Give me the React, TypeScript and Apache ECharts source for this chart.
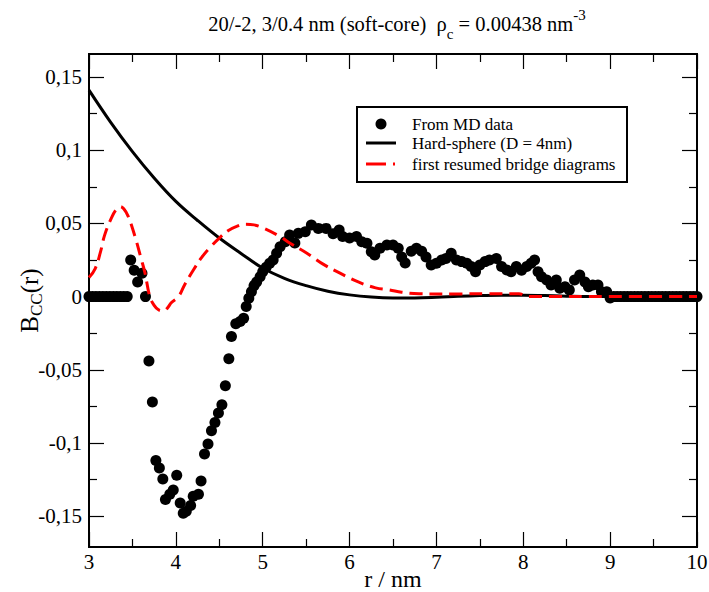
import React, { useEffect, useRef } from "react";
import * as echarts from "echarts";

// MD data (r in nm, B_CC)
const mdR = [
  3.0, 3.04, 3.08, 3.12, 3.16, 3.2, 3.24, 3.28, 3.32, 3.36, 3.4, 3.44,
  3.48, 3.52, 3.56, 3.61, 3.65, 3.69, 3.73, 3.77, 3.81, 3.85, 3.88, 3.93, 3.97,
  4.01, 4.05, 4.085, 4.12, 4.17, 4.2, 4.26, 4.29, 4.33, 4.37, 4.41, 4.45, 4.49,
  4.53, 4.57, 4.61, 4.64, 4.69, 4.74, 4.78, 4.81, 4.84, 4.87, 4.9, 4.93, 4.97,
  5.0, 5.04, 5.08, 5.12, 5.16, 5.2, 5.26, 5.31, 5.37, 5.41, 5.49, 5.56, 5.64,
  5.73, 5.81, 5.88, 5.92, 6.0, 6.08, 6.14, 6.2, 6.25, 6.29, 6.35, 6.43, 6.5,
  6.56, 6.6, 6.64, 6.71, 6.77, 6.83, 6.88, 6.94, 7.0, 7.06, 7.11, 7.17, 7.23,
  7.29, 7.35, 7.4, 7.45, 7.5, 7.56, 7.61, 7.69, 7.75, 7.81, 7.86, 7.92, 7.98,
  8.04, 8.09, 8.13, 8.17, 8.21, 8.27, 8.32, 8.38, 8.42, 8.48, 8.53, 8.59, 8.65,
  8.71, 8.75, 8.8, 8.86, 8.9, 8.96, 9.0,
  9.04, 9.08, 9.12, 9.16, 9.2, 9.24, 9.28, 9.32, 9.36, 9.4, 9.44, 9.48, 9.52,
  9.56, 9.6, 9.64, 9.68, 9.72, 9.76, 9.8, 9.84, 9.88, 9.92, 9.96, 10.0,
];
const mdB = [
  0, 0, 0, 0, 0, 0, 0, 0, 0, 0, 0, 0,
  0.025, 0.018, 0.01, 0.016, 0.0, -0.044, -0.072, -0.112, -0.117, -0.1245, -0.1386, -0.135, -0.132,
  -0.122, -0.141, -0.148, -0.1466, -0.1427, -0.1364, -0.135, -0.126, -0.1075, -0.1006, -0.0916, -0.086, -0.0795,
  -0.0738, -0.0609, -0.0425, -0.0273, -0.0186, -0.017, -0.0148, -0.0068, -0.0011, 0.0034, 0.0075, 0.01, 0.0136,
  0.017, 0.02, 0.0228, 0.025, 0.0296, 0.034, 0.0375, 0.042, 0.0366, 0.0432, 0.0443, 0.0489, 0.0466,
  0.0466, 0.043, 0.0455, 0.041, 0.04, 0.041, 0.0375, 0.0364, 0.0307, 0.0284, 0.033, 0.0352, 0.0352,
  0.033, 0.027, 0.023, 0.031, 0.033, 0.031, 0.027, 0.0216, 0.0228, 0.025, 0.026, 0.0296, 0.025,
  0.0239, 0.0228, 0.0205, 0.017, 0.0216, 0.0239, 0.025, 0.026, 0.0205, 0.0182, 0.017, 0.0205, 0.018,
  0.0205, 0.0228, 0.025, 0.017, 0.0136, 0.0114, 0.008, 0.0114, 0.0057, 0.0068, 0.0046, 0.0114, 0.0148,
  0.01, 0.0068, 0.008, 0.008, 0.0034, 0.0034, -0.001,
  0, 0, 0, 0, 0, 0, 0, 0, 0, 0, 0, 0, 0,
  0, 0, 0, 0, 0, 0, 0, 0, 0, 0, 0, 0,
];

// Hard-sphere (D = 4nm)
const hsR = [3.0, 3.25, 3.5, 3.75, 4.0, 4.25, 4.5, 4.75, 5.0, 5.25, 5.5, 5.75, 6.0, 6.25, 6.5, 6.75, 7.0, 7.25, 7.5, 7.75, 8.0, 8.25, 8.5, 9.0, 10.0];
const hsB = [0.141, 0.119, 0.099, 0.081, 0.065, 0.052, 0.04, 0.0295, 0.0195, 0.0125, 0.0075, 0.0037, 0.0012, -0.0003, -0.0009, -0.0009, -0.0005, 0.0002, 0.0007, 0.001, 0.001, 0.0007, 0.0003, 0.0, 0.0];

// First resumed bridge diagrams
const brR = [3.0, 3.07, 3.13, 3.18, 3.26, 3.32, 3.36, 3.4, 3.45, 3.53, 3.6, 3.645, 3.7, 3.75, 3.8, 3.855, 3.9, 3.95, 4.03, 4.1, 4.2, 4.3, 4.4, 4.5, 4.6, 4.7, 4.8, 4.9, 5.0, 5.2, 5.31, 5.5, 5.7, 5.89, 6.1, 6.3, 6.46, 6.6, 6.8, 7.2, 7.6, 7.95, 8.05, 9.0, 10.0];
const brB = [0.013, 0.019, 0.03, 0.042, 0.054, 0.06, 0.0615, 0.06, 0.055, 0.041, 0.026, 0.016, 0.0, -0.006, -0.009, -0.0097, -0.008, -0.004, 0.0, 0.008, 0.018, 0.027, 0.034, 0.04, 0.045, 0.048, 0.0495, 0.049, 0.047, 0.041, 0.0366, 0.03, 0.022, 0.016, 0.01, 0.006, 0.0046, 0.003, 0.002, 0.0018, 0.002, 0.002, 0.0, 0.0, 0.0];

const yMajor = [-0.15, -0.1, -0.05, 0, 0.05, 0.1, 0.15];
const yMinor = [-0.125, -0.075, -0.025, 0.025, 0.075, 0.125];
const legendNames = ["From MD data", "Hard-sphere (D = 4nm)", "first resumed bridge diagrams"];

const FONT = "Liberation Serif";
const Y_MIN = -0.171;
const Y_MAX = 0.1657;

const fmtY = (v: number) => {
  const n = Number(v.toFixed(3));
  const s = n === 0 ? "0" : String(n).replace(".", ",");
  return `{a|${s}}`;
};
const fmtX = (v: number) => `{a|${v}}`;

export default function App() {
  const ref = useRef<HTMLDivElement>(null);
  useEffect(() => {
    if (!ref.current) return;
    const chart = echarts.init(ref.current, null, { renderer: "svg" });
    const labelRich = { a: { fontFamily: FONT, fontSize: 21, color: "#000" } };
    const axisLine = { show: true, onZero: false, lineStyle: { color: "#000", width: 2 } };
    const yBase = (pos: "left" | "right", ticks: number[], len: number, labels: boolean, name?: boolean) => ({
      type: "value",
      position: pos,
      min: Y_MIN,
      max: Y_MAX,
      axisLine,
      splitLine: { show: false },
      axisTick: { show: true, inside: true, length: len, customValues: ticks, lineStyle: { color: "#000", width: 1.2 } },
      axisLabel: labels
        ? { show: true, customValues: yMajor, formatter: fmtY, fontFamily: FONT, fontSize: 21, color: "#000", margin: 7, rich: labelRich }
        : { show: false },
      ...(name
        ? {
            name: "{b|B}{sub|CC}{b|(r)}",
            nameLocation: "middle",
            nameGap: 44,
            nameRotate: 90,
            nameMoveOverlap: false,
            nameTextStyle: {
              fontFamily: FONT,
              fontSize: 25,
              color: "#000",
              lineHeight: 32,
              rich: {
                b: { fontFamily: FONT, fontSize: 25, color: "#000" },
                sub: { fontFamily: FONT, fontSize: 17, verticalAlign: "bottom", lineHeight: 17, color: "#000" },
              },
            },
          }
        : {}),
    });
    const xBase = (pos: "bottom" | "top", labels: boolean) => ({
      type: "value",
      position: pos,
      min: 3,
      max: 10,
      interval: 1,
      axisLine,
      splitLine: { show: false },
      axisTick: { show: true, inside: true, length: 15, lineStyle: { color: "#000", width: 1.2 } },
      minorTick: { show: true, splitNumber: 2, length: 8, lineStyle: { color: "#000", width: 1.2 } },
      minorSplitLine: { show: false },
      axisLabel: labels
        ? { show: true, formatter: fmtX, fontFamily: FONT, fontSize: 21, color: "#000", margin: 4, rich: labelRich }
        : { show: false },
      ...(labels
        ? {
            name: "{n|r / nm}",
            nameLocation: "middle",
            nameGap: 20,
            nameMoveOverlap: false,
            nameTextStyle: { fontFamily: FONT, fontSize: 24, color: "#000", rich: { n: { fontFamily: FONT, fontSize: 24, color: "#000" } } },
          }
        : {}),
    });

    chart.setOption({
      animation: false,
      backgroundColor: "#fff",
      textStyle: { fontFamily: FONT },
      title: {
        text: "{t|20/-2, 3/0.4 nm (soft-core)  ρ}{sub|c}{t| = 0.00438 nm}{sup|-3}",
        left: 392,
        top: 2,
        textAlign: "center",
        textStyle: {
          fontFamily: FONT,
          fontSize: 20.5,
          fontWeight: "normal",
          color: "#000",
          lineHeight: 34,
          rich: {
            t: { fontFamily: FONT, fontSize: 20.5, color: "#000" },
            sub: { fontFamily: FONT, fontSize: 15, verticalAlign: "bottom", lineHeight: 15, color: "#000" },
            sup: { fontFamily: FONT, fontSize: 15, verticalAlign: "top", lineHeight: 15, color: "#000" },
          },
        },
      },
      grid: { left: 89, right: 12, top: 54, bottom: 45, containLabel: false, outerBoundsMode: "none" },
      xAxis: [xBase("bottom", true), xBase("top", false)],
      yAxis: [
        yBase("left", yMajor, 15, true, true),
        yBase("left", yMinor, 8, false),
        yBase("right", yMajor, 15, false),
        yBase("right", yMinor, 8, false),
      ],
      series: [
        {
          name: legendNames[0],
          type: "scatter",
          symbol: "circle",
          symbolSize: 11,
          itemStyle: { color: "#000", opacity: 1 },
          data: mdR.map((r, i) => [r, mdB[i]]),
          z: 2,
        },
        {
          name: legendNames[1],
          type: "line",
          smooth: 0.4,
          showSymbol: false,
          lineStyle: { color: "#000", width: 3 },
          data: hsR.map((r, i) => [r, hsB[i]]),
          z: 3,
        },
        {
          name: legendNames[2],
          type: "line",
          smooth: 0.4,
          showSymbol: false,
          lineStyle: { color: "#ff0000", width: 3, type: [13, 7] },
          data: brR.map((r, i) => [r, brB[i]]),
          z: 4,
        },
      ],
      graphic: [
        {
          type: "group",
          left: 356,
          top: 106,
          z: 100,
          children: [
            { type: "rect", shape: { x: 0, y: 0, width: 270, height: 75 }, style: { fill: "#fff", stroke: "#000", lineWidth: 2 } },
            { type: "circle", shape: { cx: 24, cy: 17, r: 5.5 }, style: { fill: "#000" } },
            { type: "line", shape: { x1: 9, y1: 36, x2: 39, y2: 36 }, style: { stroke: "#000", lineWidth: 3 } },
            { type: "line", shape: { x1: 9, y1: 57, x2: 29, y2: 57 }, style: { stroke: "#ff0000", lineWidth: 3 } },
            { type: "line", shape: { x1: 36, y1: 57, x2: 38, y2: 57 }, style: { stroke: "#ff0000", lineWidth: 3 } },
            { type: "text", x: 55, y: 17, style: { text: legendNames[0], fontFamily: FONT, fontSize: 17, fill: "#000", verticalAlign: "middle" } },
            { type: "text", x: 55, y: 36, style: { text: legendNames[1], fontFamily: FONT, fontSize: 17, fill: "#000", verticalAlign: "middle" } },
            { type: "text", x: 55, y: 57, style: { text: legendNames[2], fontFamily: FONT, fontSize: 17, fill: "#000", verticalAlign: "middle" } },
          ],
        },
      ],
    });
    return () => chart.dispose();
  }, []);
  return <div ref={ref} style={{ position: "fixed", left: 0, top: 0, width: 709, height: 592 }} />;
}
